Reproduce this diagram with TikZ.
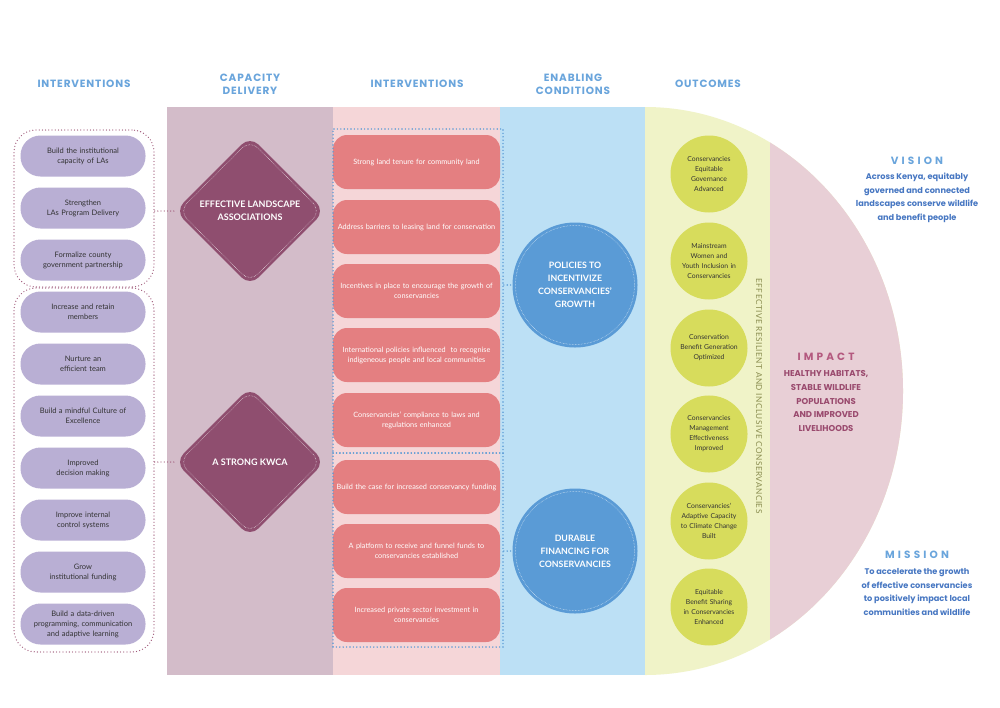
\documentclass[tikz,border=0pt]{standalone}
\usepackage{fontspec}
\setmainfont{Lato}
\newfontfamily\headfont[LetterSpace=8]{Poppins}
\newfontfamily\spacedfont[LetterSpace=30]{Poppins}
\newfontfamily\plainfont{Poppins}
\newfontfamily\sidefont[LetterSpace=6]{Lato}
\usepackage{tikz}
\usetikzlibrary{shapes.geometric}

\definecolor{headblue}{HTML}{6AA5DC}
\definecolor{textblue}{HTML}{4777C2}
\definecolor{capcol}{HTML}{D3BCC9}
\definecolor{intcol}{HTML}{F5D6D8}
\definecolor{encol}{HTML}{BCE0F5}
\definecolor{outcol}{HTML}{F0F3C8}
\definecolor{impcol}{HTML}{E8CFD6}
\definecolor{pillfill}{HTML}{B9AFD4}
\definecolor{diafill}{HTML}{8F4E6F}
\definecolor{boxfill}{HTML}{E47F81}
\definecolor{circfill}{HTML}{5A9BD6}
\definecolor{outfill}{HTML}{D7DC5C}
\definecolor{dotmaroon}{HTML}{A05A7A}
\definecolor{imptitle}{HTML}{B4597F}
\definecolor{imptext}{HTML}{9A4A6E}
\definecolor{olive}{HTML}{8A8D50}

\begin{document}
\begin{tikzpicture}[x=1pt, y=-1pt,
	head/.style={font=\headfont\bfseries\fontsize{10.5}{13}\selectfont, text=headblue, align=center},
	pill/.style={rectangle, rounded corners=20pt, fill=pillfill, minimum width=125pt, minimum height=41pt, text width=120pt, align=center, inner sep=0pt, text=black!80, font=\fontsize{7.5}{10}\selectfont},
	grpdots/.style={draw=dotmaroon, line width=1.3pt, dash pattern=on 0pt off 3.2pt, line cap=round, rounded corners=22pt},
	bluedots/.style={draw=circfill, line width=1.6pt, dash pattern=on 0pt off 3.4pt, line cap=round},
	diabox/.style={diamond, aspect=1, fill=diafill, minimum size=150pt, inner sep=0pt, rounded corners=12pt, text=white, align=center, font=\bfseries\fontsize{9}{13}\selectfont},
	diaring/.style={diamond, aspect=1, minimum size=142pt, inner sep=0pt, rounded corners=11pt, draw=white!85!diafill, densely dotted, line width=0.5pt},
	redbox/.style={rectangle, rounded corners=14pt, fill=boxfill, minimum width=167pt, minimum height=54pt, text width=164pt, align=center, inner sep=0pt, text=white, font=\fontsize{7.3}{10}\selectfont},
	bigcirc/.style={circle, fill=circfill, minimum size=125pt, inner sep=0pt, text=white, align=center, font=\bfseries\fontsize{8.8}{13}\selectfont},
	bigring/.style={circle, minimum size=119pt, inner sep=0pt, draw=white!80!circfill, densely dotted, line width=0.5pt},
	outcirc/.style={circle, fill=outfill, minimum size=77pt, inner sep=0pt, text width=68pt, align=center, text=black!80, font=\fontsize{6.8}{10}\selectfont}]

	% Canvas
	\fill[white] (0,0) rectangle (1000,707);
	\useasboundingbox (0,0) rectangle (1000,707);

	% Column backgrounds
	\fill[capcol] (167,107) rectangle (333,675);
	\fill[intcol] (333,107) rectangle (500,675);
	\fill[encol] (500,107) rectangle (645,675);
	\fill[outcol] (645,107) arc[start angle=-90, end angle=90, x radius=258, y radius=284] -- cycle;
	\begin{scope}
		\clip (645,107) arc[start angle=-90, end angle=90, x radius=258, y radius=284] -- cycle;
		\fill[impcol] (770,100) rectangle (1000,700);
	\end{scope}

	% Headers
	\node[head] (h1) at (84,84) {INTERVENTIONS};
	\node[head] (h2) at (250,84) {CAPACITY\\DELIVERY};
	\node[head] (h3) at (417,84) {INTERVENTIONS};
	\node[head] (h4) at (573,84) {ENABLING\\CONDITIONS};
	\node[head] (h5) at (708,84) {OUTCOMES};

	% Left interventions
	\node[pill] (p1) at (83,156) {Build the institutional\\capacity of LAs};
	\node[pill] (p2) at (83,208) {Strengthen\\LAs Program Delivery};
	\node[pill] (p3) at (83,260) {Formalize county\\government partnership};
	\node[pill] (p4) at (83,312) {Increase and retain\\members};
	\node[pill] (p5) at (83,364) {Nurture an\\efficient team};
	\node[pill] (p6) at (83,416) {Build a mindful Culture of\\Excellence};
	\node[pill] (p7) at (83,468) {Improved\\decision making};
	\node[pill] (p8) at (83,520) {Improve internal\\control systems};
	\node[pill] (p9) at (83,572) {Grow\\institutional funding};
	\node[pill] (p10) at (83,624) {Build a data-driven\\programming, communication\\and adaptive learning};

	% Dotted groups
	\node[grpdots, minimum width=140pt, minimum height=157pt] (g1) at (84,208.5) {};
	\node[grpdots, minimum width=140pt, minimum height=364pt] (g2) at (84,470) {};

	% Capacity delivery
	\node[diabox] (d1) at (250,211) {EFFECTIVE LANDSCAPE\\ASSOCIATIONS};
	\node[diaring] at (d1) {};
	\node[diabox] (d2) at (250,462) {A STRONG KWCA};
	\node[diaring] at (d2) {};

	\draw[grpdots] (g1.east |- d1.west) -- (d1.west);
	\draw[grpdots] (g2.east |- d2.west) -- (d2.west);

	% Middle interventions
	\node[redbox] (r1) at (416.5,162) {Strong land tenure for community land};
	\node[redbox] (r2) at (416.5,227) {Address barriers to leasing land for conservation};
	\node[redbox] (r3) at (416.5,291) {Incentives in place to encourage the growth of\\conservancies};
	\node[redbox] (r4) at (416.5,355) {International policies influenced\ \ to recognise\\indigeneous people and local communities};
	\node[redbox] (r5) at (416.5,420) {Conservancies’ compliance to laws and\\regulations enhanced};
	\node[redbox] (r6) at (416.5,487) {Build the case for increased conservancy funding};
	\node[redbox] (r7) at (416.5,551) {A platform to receive and funnel funds to\\conservancies established};
	\node[redbox] (r8) at (416.5,615) {Increased private sector investment in\\conservancies};

	\node[bluedots, minimum width=170pt, minimum height=324pt] (g3) at (418,291) {};
	\node[bluedots, minimum width=170pt, minimum height=194pt] (g4) at (418,550) {};

	% Enabling conditions
	\node[bigcirc] (c1) at (575,285) {POLICIES TO\\INCENTIVIZE\\CONSERVANCIES’\\GROWTH};
	\node[bigring] at (c1) {};
	\node[bigcirc] (c2) at (575,551) {DURABLE\\FINANCING FOR\\CONSERVANCIES};
	\node[bigring] at (c2) {};

	\draw[bluedots] (g3.east |- c1.west) -- (c1.west);
	\draw[bluedots] (g4.east |- c2.west) -- (c2.west);

	% Outcomes
	\node[outcirc] (o1) at (709,174) {Conservancies\\Equitable\\Governance\\Advanced};
	\node[outcirc] (o2) at (709,261) {Mainstream\\Women and\\Youth Inclusion in\\Conservancies};
	\node[outcirc] (o3) at (709,348) {Conservation\\Benefit Generation\\Optimized};
	\node[outcirc] (o4) at (709,434) {Conservancies\\Management\\Effectiveness\\Improved};
	\node[outcirc] (o5) at (709,521) {Conservancies’\\Adaptive Capacity\\to Climate Change\\Built};
	\node[outcirc] (o6) at (709,607) {Equitable\\Benefit Sharing\\in Conservancies\\Enhanced};

	\node[rotate=-90, text=olive, font=\sidefont\fontsize{8.2}{9}\selectfont] (side) at (759,396) {EFFECTIVE RESILIENT AND INCLUSIVE CONSERVANCIES};

	% Impact
	\node[text=imptitle, font=\spacedfont\bfseries\fontsize{10.5}{13}\selectfont] (imp) at (826,357) {IMPACT};
	\node[text=imptext, align=center, font=\plainfont\bfseries\fontsize{8.5}{13.7}\selectfont] (impt) at (826,401) {HEALTHY HABITATS,\\STABLE WILDLIFE\\POPULATIONS\\AND IMPROVED\\LIVELIHOODS};

	% Vision and mission
	\node[text=headblue, font=\spacedfont\bfseries\fontsize{10.5}{13}\selectfont] (vis) at (917,161) {VISION};
	\node[text=textblue, align=center, font=\plainfont\bfseries\fontsize{8.2}{13.5}\selectfont] (vist) at (917,198) {Across Kenya, equitably\\governed and connected\\landscapes conserve wildlife\\and benefit people};
	\node[text=headblue, font=\spacedfont\bfseries\fontsize{10.5}{13}\selectfont] (mis) at (917,555) {MISSION};
	\node[text=textblue, align=center, font=\plainfont\bfseries\fontsize{8.2}{13.5}\selectfont] (mist) at (917,592) {To accelerate the growth\\of effective conservancies\\to positively impact local\\communities and wildlife};

\end{tikzpicture}
\end{document}
